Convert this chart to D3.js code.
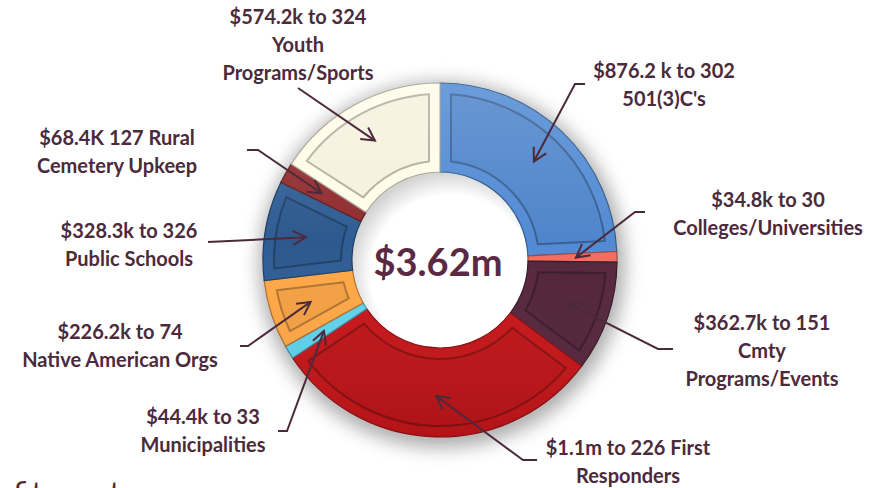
<!DOCTYPE html>
<html>
<head>
<meta charset="utf-8">
<script src="https://cdn.jsdelivr.net/npm/d3@7"></script>
<style>
    body { margin: 0; background: #fff; }
    text { font-family: Lato, "Open Sans", sans-serif; font-weight: bold; fill: #4b2a3b; }
</style>
</head>
<body>
<svg id="chart" width="886" height="488"></svg>
<script>

// donation amounts in $k, clockwise from 12 o'clock
var categories = ["501(3)C's", "Colleges/Universities", "Cmty Programs/Events", "First Responders",
    "Municipalities", "Native American Orgs", "Public Schools", "Rural Cemetery Upkeep", "Youth Programs/Sports"];
var amounts = [876.2, 34.8, 362.7, 1100, 44.4, 226.2, 328.3, 68.4, 574.2];
var recipients = [302, 30, 151, 226, 33, 74, 326, 127, 324];
var labelLines = [
    ["$876.2 k to 302", "501(3)C's"],
    ["$34.8k to 30", "Colleges/Universities"],
    ["$362.7k to 151", "Cmty", "Programs/Events"],
    ["$1.1m to 226 First", "Responders"],
    ["$44.4k to 33", "Municipalities"],
    ["$226.2k to 74", "Native American Orgs"],
    ["$328.3k to 326", "Public Schools"],
    ["$68.4K 127 Rural", "Cemetery Upkeep"],
    ["$574.2k to 324", "Youth", "Programs/Sports"]
];
var totalLabel = "$3.62m";
var colors = ["#4f85cb", "#e8685a", "#52243a", "#bf1418", "#5ccae4", "#f4a043", "#2d598e", "#8a2a2c", "#f6f1de"];

// label placement: text centre, first baseline, and the elbow of the connector
var labelPos = [
    {x: 664, y: 78,  from: [585, 84],  elbow: [575, 84]},
    {x: 768, y: 207, from: [645, 212], elbow: [635, 212]},
    {x: 762, y: 330, from: [673, 349], elbow: [658, 349]},
    {x: 628, y: 455, from: [537, 460], elbow: [523, 460]},
    {x: 203, y: 424, from: [278, 431], elbow: [287, 431]},
    {x: 120, y: 339, from: [240, 346], elbow: [248, 346]},
    {x: 129, y: 238, from: [208, 242], elbow: [208, 242]},
    {x: 117, y: 145, from: [247, 150], elbow: [258, 150]},
    {x: 298, y: 24,  from: [298, 88],  elbow: [298, 88]}
];

var svg = d3.select("#chart");
var cx = 440, cy = 260, outerR = 177, innerR = 88;
var lineColor = "#4b2a3b";

var defs = svg.append("defs");

// soft shadow under the ring
var blur = defs.append("filter").attr("id", "ringShadow")
    .attr("x", "-25%").attr("y", "-25%").attr("width", "150%").attr("height", "150%");
blur.append("feGaussianBlur").attr("stdDeviation", 9);

// gloss over the ring
var gloss = defs.append("linearGradient").attr("id", "gloss")
    .attr("x1", 0).attr("y1", 0).attr("x2", 0).attr("y2", 1);
gloss.append("stop").attr("offset", "0%").attr("stop-color", "#fff").attr("stop-opacity", 0.15);
gloss.append("stop").attr("offset", "45%").attr("stop-color", "#fff").attr("stop-opacity", 0);
gloss.append("stop").attr("offset", "100%").attr("stop-color", "#000").attr("stop-opacity", 0.1);

// hole shading
var hole = defs.append("radialGradient").attr("id", "hole")
    .attr("cx", "56%").attr("cy", "58%").attr("r", "58%");
hole.append("stop").attr("offset", "78%").attr("stop-color", "#fff");
hole.append("stop").attr("offset", "100%").attr("stop-color", "#d4d4d4");

defs.append("marker")
    .attr("id", "arrow")
    .attr("viewBox", "-15 -9 17 18")
    .attr("refX", 0).attr("refY", 0)
    .attr("markerUnits", "userSpaceOnUse")
    .attr("markerWidth", 17).attr("markerHeight", 18)
    .attr("orient", "auto")
  .append("path")
    .attr("d", "M-13,-7 L0,0 L-13,7")
    .attr("fill", "none")
    .attr("stroke", lineColor)
    .attr("stroke-width", 2);

var pie = d3.pie().sort(null).value(function(d) { return d; });
var slices = pie(amounts);

var arc = d3.arc().innerRadius(innerR).outerRadius(outerR);
var inset = d3.arc().innerRadius(innerR + 11).outerRadius(outerR - 11)
    .padRadius(100).padAngle(0.22);
var tipArc = d3.arc().innerRadius(130).outerRadius(142);

var g = svg.append("g").attr("transform", "translate(" + cx + "," + cy + ")");

// shadow ring
g.append("path")
    .attr("d", d3.arc().innerRadius(innerR - 2).outerRadius(outerR + 6).startAngle(0).endAngle(2 * Math.PI)())
    .attr("transform", "translate(2,5)")
    .attr("fill", "#777")
    .attr("opacity", 0.6)
    .attr("filter", "url(#ringShadow)");

g.append("circle").attr("r", innerR).attr("fill", "url(#hole)");

var seg = g.selectAll("g.slice")
    .data(slices)
    .enter().append("g")
    .attr("class", "slice");

// outer frame
seg.append("path")
    .attr("d", arc)
    .attr("fill", function(d, i) { return d3.color(colors[i]).brighter(0.12); })
    .attr("stroke", function(d, i) { return d3.color(colors[i]).darker(1); })
    .attr("stroke-width", 1.2);

// inner raised panel, only for wide enough slices
seg.filter(function(d) { return d.endAngle - d.startAngle > 0.15; })
  .append("path")
    .attr("d", inset)
    .attr("fill", function(d) { return colors[slices.indexOf(d)]; })
    .attr("stroke", function(d) { return d3.color(colors[slices.indexOf(d)]).darker(0.9); })
    .attr("stroke-width", 2)
    .attr("stroke-linejoin", "round");

g.append("path")
    .attr("d", d3.arc().innerRadius(innerR).outerRadius(outerR).startAngle(0).endAngle(2 * Math.PI)())
    .attr("fill", "url(#gloss)")
    .attr("pointer-events", "none");

// total in the middle
g.append("text")
    .attr("text-anchor", "middle")
    .attr("x", -2)
    .attr("y", 16)
    .style("font-size", "38px")
    .style("fill", "#5a2a42")
    .text(totalLabel);

// connectors with arrows
var labels = svg.append("g");

labels.selectAll("path.connector")
    .data(slices)
    .enter().append("path")
    .attr("class", "connector")
    .attr("d", function(d, i) {
        var p = labelPos[i];
        var tip = tipArc.centroid(d);
        return "M" + p.from[0] + "," + p.from[1] +
            "L" + p.elbow[0] + "," + p.elbow[1] +
            "L" + (tip[0] + cx) + "," + (tip[1] + cy);
    })
    .attr("fill", "none")
    .attr("stroke", lineColor)
    .attr("stroke-width", 2)
    .attr("marker-end", "url(#arrow)");

labels.selectAll("text.label")
    .data(slices)
    .enter().append("text")
    .attr("class", "label")
    .attr("text-anchor", "middle")
    .style("font-size", "20px")
    .each(function(d, i) {
        var t = d3.select(this);
        labelLines[i].forEach(function(line, j) {
            t.append("tspan")
                .attr("x", labelPos[i].x)
                .attr("y", labelPos[i].y + j * 28)
                .text(line);
        });
    });

// cut-off text at the bottom edge of the picture
svg.append("text")
    .attr("x", 13)
    .attr("y", 505)
    .style("font-size", "32px")
    .style("font-weight", "normal")
    .style("fill", "#5a2a2e")
    .text("fit most");

</script>
</body>
</html>
